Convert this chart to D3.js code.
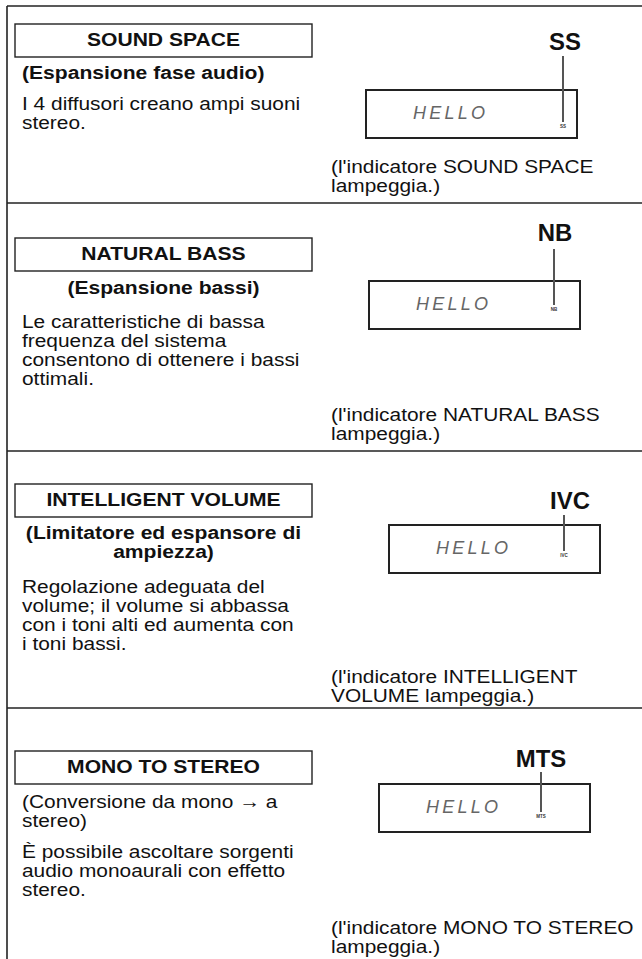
<!DOCTYPE html>
<html>
<head>
<meta charset="utf-8">
<script src="https://cdn.jsdelivr.net/npm/d3@7"></script>
<style>
  html, body { margin: 0; padding: 0; background: #fff; }
  svg { display: block; }
  text { font-family: "Liberation Sans", Arial, Helvetica, sans-serif; fill: #111; }
</style>
</head>
<body>
<svg id="chart" width="642" height="959"></svg>
<script>
// ---------- content ----------
const titles = ["SOUND SPACE", "NATURAL BASS", "INTELLIGENT VOLUME", "MONO TO STEREO"];
const subtitles = [
  ["(Espansione fase audio)"],
  ["(Espansione bassi)"],
  ["(Limitatore ed espansore di", "ampiezza)"],
  ["(Conversione da mono \u2192 a", "stereo)"]
];
const descriptions = [
  ["I 4 diffusori creano ampi suoni", "stereo."],
  ["Le caratteristiche di bassa", "frequenza del sistema", "consentono di ottenere i bassi", "ottimali."],
  ["Regolazione adeguata del", "volume; il volume si abbassa", "con i toni alti ed aumenta con", "i toni bassi."],
  ["\u00C8 possibile ascoltare sorgenti", "audio monoaurali con effetto", "stereo."]
];
const indicators = ["SS", "NB", "IVC", "MTS"];
const displayTexts = ["HELLO", "HELLO", "HELLO", "HELLO"];
const captions = [
  ["(l'indicatore SOUND SPACE", "lampeggia.)"],
  ["(l'indicatore NATURAL BASS", "lampeggia.)"],
  ["(l'indicatore INTELLIGENT", "VOLUME lampeggia.)"],
  ["(l'indicatore MONO TO STEREO", "lampeggia.)"]
];

// ---------- layout (positions kept apart from content) ----------
const W = 642, H = 959;
const frameX = 7;
const sectionTops = [6, 203, 451, 708];
const layout = [
  { boxY: 24,  subAnchor: "start",  subBold: true,  subY: 79,  descY: 110, capY: 173,
    labelX: 565, labelY: 50,  lineX: 563, lineY1: 56,  lineY2: 122, dispX: 366, dispY: 90 },
  { boxY: 238, subAnchor: "middle", subBold: true,  subY: 294, descY: 328, capY: 421,
    labelX: 555, labelY: 241, lineX: 554, lineY1: 249, lineY2: 305, dispX: 369, dispY: 281 },
  { boxY: 484, subAnchor: "middle", subBold: true,  subY: 539, descY: 593, capY: 683,
    labelX: 570, labelY: 509, lineX: 564, lineY1: 515, lineY2: 551, dispX: 389, dispY: 525 },
  { boxY: 751, subAnchor: "start",  subBold: false, subY: 808, descY: 858, capY: 934,
    labelX: 541, labelY: 767, lineX: 541, lineY1: 772, lineY2: 812, dispX: 379, dispY: 784 }
];
const titleBox = { x: 15, w: 297, h: 33 };
const disp = { w: 211, h: 48 };
const textX = 22, capX = 331, centerX = 163.5;
const fsBody = 18.5, sxBody = 1.13, sxBold = 1.14;
const lhDesc = 19, lhSub = 19, lhCap = 19;

const svg = d3.select("#chart");
svg.append("rect").attr("width", W).attr("height", H).attr("fill", "#fff");

// helper: horizontally stretched text line
function line(g, str, x, y, opt) {
  const o = Object.assign({ size: fsBody, bold: false, anchor: "start", sx: sxBody }, opt || {});
  return g.append("text")
    .attr("transform", `translate(${x},${y}) scale(${o.sx},1)`)
    .attr("text-anchor", o.anchor)
    .attr("font-size", o.size)
    .attr("font-weight", o.bold ? "bold" : "normal")
    .text(str);
}

// frame
const frame = svg.append("g").attr("stroke", "#222").attr("stroke-width", 1.6).attr("fill", "none");
frame.append("line").attr("x1", frameX).attr("x2", frameX).attr("y1", sectionTops[0]).attr("y2", H);
frame.selectAll("line.sep").data(sectionTops).join("line").attr("class", "sep")
  .attr("x1", frameX).attr("x2", W).attr("y1", d => d).attr("y2", d => d);

const sections = svg.selectAll("g.section").data(titles.map((t, i) => i)).join("g").attr("class", "section");

sections.each(function (i) {
  const g = d3.select(this);
  const L = layout[i];

  // title box
  g.append("rect").attr("x", titleBox.x).attr("y", L.boxY).attr("width", titleBox.w).attr("height", titleBox.h)
    .attr("fill", "none").attr("stroke", "#222").attr("stroke-width", 1.4);
  line(g, titles[i], centerX, L.boxY + 22, { bold: true, anchor: "middle", sx: sxBold });

  // subtitle
  subtitles[i].forEach((s, k) => {
    const x = L.subAnchor === "middle" ? centerX : textX;
    line(g, s, x, L.subY + k * lhSub, { bold: L.subBold, anchor: L.subAnchor, sx: L.subBold ? sxBold : sxBody });
  });

  // description
  descriptions[i].forEach((s, k) => line(g, s, textX, L.descY + k * lhDesc));

  // caption
  captions[i].forEach((s, k) => line(g, s, capX, L.capY + k * lhCap));

  // display panel
  g.append("rect").attr("x", L.dispX).attr("y", L.dispY).attr("width", disp.w).attr("height", disp.h)
    .attr("fill", "#fff").attr("stroke", "#222").attr("stroke-width", 2);
  g.append("text")
    .attr("x", L.dispX + 47).attr("y", L.dispY + 29)
    .attr("font-size", 18).attr("font-style", "italic")
    .attr("font-family", "'DejaVu Sans', sans-serif").attr("font-weight", 200)
    .attr("textLength", 72).attr("lengthAdjust", "spacing")
    .style("fill", "#666")
    .text(displayTexts[i]);

  // indicator leader line + labels
  g.append("line").attr("x1", L.lineX).attr("x2", L.lineX).attr("y1", L.lineY1).attr("y2", L.lineY2)
    .attr("stroke", "#555").attr("stroke-width", 2);
  line(g, indicators[i], L.labelX, L.labelY, { size: 23, bold: true, anchor: "middle", sx: 1.04 });
  g.append("text").attr("x", L.lineX).attr("y", L.lineY2 + 5.5)
    .attr("text-anchor", "middle").attr("font-size", 4.5).attr("font-weight", "bold")
    .style("fill", "#333").text(indicators[i]);
});
</script>
</body>
</html>
